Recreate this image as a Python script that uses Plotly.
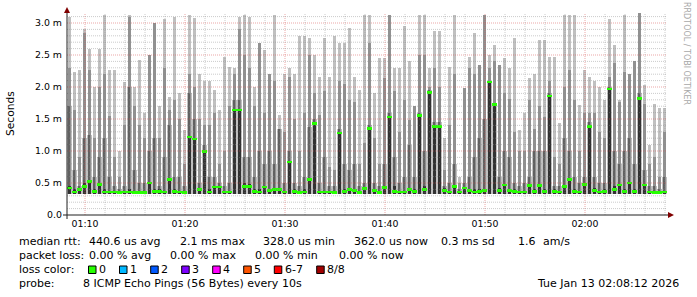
import plotly.graph_objects as go
import pandas as pd

# ---------------- data (ms), one value per 30 s column from 01:08:12 ----------------
START = "2026-01-13 01:08:12"
STEP_S = 30

rtt_max = [3.1, 2.24, 2.27, 2.9, 2.6, 2.0, 2.6, 3.12, 2.27, 2.27, 1.0, 2.08, 3.12, 2.0, 2.42, 1.6, 2.5, 3.0, 1.7, 3.07, 1.85, 3.1, 1.9, 1.33,
           3.12, 3.08, 2.2, 2.1, 2.1, 1.95, 1.64, 2.47, 2.32, 2.3, 3.1, 3.12, 3.1, 2.0, 2.68, 2.58, 2.2, 3.12, 1.56, 2.2, 2.3, 2.2, 2.8, 2.8,
           2.76, 2.5, 2.16, 2.76, 2.16, 2.8, 2.68, 2.68, 2.92, 2.16, 1.95, 3.12, 3.12, 1.9, 2.45, 2.45, 3.12, 2.3, 2.3, 2.95, 2.4, 1.7, 3.12, 3.12,
           2.3, 2.87, 2.87, 1.2, 2.32, 3.12, 0.6, 1.98, 2.47, 2.84, 2.34, 3.12, 2.5, 2.66, 2.34, 2.45, 2.3, 2.76, 1.33, 1.6, 2.14, 2.2, 2.73, 2.73,
           2.47, 2.47, 1.43, 3.12, 3.12, 3.12, 1.72, 2.27, 2.16, 2.1, 2.0, 1.8, 3.07, 2.66, 1.8, 3.12, 2.2, 2.4, 3.15, 2.03, 1.1, 1.74, 1.67, 1.67]

rtt_p7 = [2.3, 1.64, 0.9, 2.85, 2.27, 1.2, 2.0, 2.2, 1.55, 0.9, 0.6, 1.4, 3.1, 1.7, 1.4, 1.2, 2.5, 3.0, 1.2, 2.3, 1.64, 1.8, 1.5, 0.8,
          2.2, 2.0, 1.5, 1.4, 1.4, 1.6, 0.8, 1.0, 1.7, 2.2, 2.9, 2.5, 2.3, 1.7, 2.68, 1.6, 2.2, 2.1, 1.35, 1.3, 2.15, 1.5, 1.0, 1.6,
          2.5, 1.9, 1.56, 1.93, 0.75, 0.7, 2.1, 2.05, 1.8, 1.77, 0.8, 1.12, 2.68, 1.2, 0.8, 2.14, 3.12, 1.93, 1.3, 1.8, 1.48, 1.7, 2.5, 2.5,
          2.0, 2.3, 2.0, 0.7, 1.4, 2.2, 0.5, 1.98, 2.3, 2.2, 2.34, 3.12, 2.3, 2.4, 2.34, 1.9, 1.82, 1.3, 1.0, 1.0, 1.8, 1.35, 1.7, 1.53,
          2.1, 0.9, 0.8, 2.0, 2.27, 1.8, 1.0, 1.6, 1.6, 1.6, 1.3, 1.2, 2.16, 2.37, 1.77, 2.24, 2.2, 2.4, 3.15, 1.74, 0.8, 0.9, 0.6, 1.3]

rtt_p6 = [1.7, 0.7, 0.45, 1.2, 1.25, 0.6, 0.9, 1.2, 0.6, 0.45, 0.4, 0.45, 2.0, 0.7, 0.5, 0.5, 1.0, 1.2, 0.45, 0.9, 1.4, 0.6, 0.6, 0.45,
          1.9, 1.5, 0.5, 1.1, 0.6, 0.6, 0.5, 0.45, 0.5, 1.8, 1.8, 0.9, 0.9, 0.6, 1.0, 0.8, 1.0, 0.8, 1.35, 0.5, 1.0, 0.5, 0.45, 0.6,
          1.38, 1.5, 0.5, 0.9, 0.45, 0.45, 1.35, 0.8, 0.7, 0.8, 0.45, 0.5, 1.4, 0.5, 0.45, 0.8, 1.6, 0.9, 0.5, 0.6, 1.1, 0.6, 1.6, 1.0,
          1.95, 1.45, 1.45, 0.45, 0.5, 0.8, 0.4, 0.5, 0.6, 0.9, 1.2, 1.5, 2.1, 1.75, 0.6, 1.0, 0.9, 0.5, 0.45, 0.5, 0.6, 1.0, 1.0, 1.0,
          1.9, 0.45, 0.45, 1.2, 1.0, 0.6, 0.5, 0.6, 1.45, 0.6, 0.5, 0.5, 2.0, 1.0, 0.8, 1.0, 1.2, 0.8, 1.9, 0.7, 0.45, 0.45, 0.4, 0.6]

rtt_p5 = [0.45, 0.4, 0.42, 0.5, 0.55, 0.4, 0.5, 0.4, 0.38, 0.38, 0.37, 0.38, 0.4, 0.38, 0.37, 0.38, 0.52, 0.4, 0.4, 0.38, 0.56, 0.4, 0.38, 0.38,
          1.24, 1.2, 0.42, 1.0, 0.4, 0.45, 0.46, 0.38, 0.38, 1.66, 1.66, 0.5, 0.48, 0.4, 0.4, 0.45, 0.4, 0.42, 0.42, 0.38, 0.85, 0.4, 0.37, 0.4,
          0.56, 1.45, 0.38, 0.38, 0.38, 0.37, 1.3, 0.4, 0.42, 0.4, 0.37, 0.43, 1.37, 0.4, 0.37, 0.45, 1.55, 0.45, 0.38, 0.38, 0.42, 0.4, 1.58, 0.45,
          1.93, 1.4, 1.4, 0.42, 0.38, 0.47, 0.38, 0.43, 0.4, 0.4, 0.4, 0.4, 2.1, 1.75, 0.42, 0.49, 0.4, 0.4, 0.38, 0.38, 0.48, 0.4, 0.47, 0.4,
          1.88, 0.4, 0.38, 0.47, 0.57, 0.4, 0.38, 0.5, 1.4, 0.42, 0.38, 0.4, 1.99, 0.45, 0.48, 0.4, 0.52, 0.4, 1.84, 0.48, 0.38, 0.37, 0.37, 0.38]

rtt_median = [0.42, 0.36, 0.4, 0.45, 0.52, 0.37, 0.48, 0.36, 0.36, 0.36, 0.35, 0.36, 0.36, 0.35, 0.35, 0.35, 0.5, 0.37, 0.37, 0.36, 0.55, 0.37, 0.36, 0.35,
              1.22, 1.19, 0.4, 0.99, 0.36, 0.44, 0.44, 0.36, 0.36, 1.64, 1.64, 0.45, 0.45, 0.37, 0.36, 0.44, 0.38, 0.4, 0.4, 0.36, 0.83, 0.37, 0.35, 0.36,
              0.55, 1.43, 0.36, 0.36, 0.36, 0.35, 1.28, 0.37, 0.4, 0.38, 0.35, 0.41, 1.35, 0.38, 0.35, 0.43, 1.53, 0.37, 0.36, 0.36, 0.4, 0.37, 1.56, 0.4,
              1.91, 1.38, 1.38, 0.38, 0.36, 0.45, 0.36, 0.42, 0.38, 0.36, 0.37, 0.38, 2.08, 1.73, 0.38, 0.47, 0.38, 0.37, 0.36, 0.36, 0.46, 0.37, 0.46, 0.37,
              1.86, 0.37, 0.36, 0.45, 0.55, 0.37, 0.36, 0.48, 1.38, 0.38, 0.36, 0.37, 1.97, 0.4, 0.47, 0.37, 0.5, 0.37, 1.82, 0.47, 0.36, 0.35, 0.35, 0.36]

RTT_FLOOR = 0.33

y_tickvals = [0, 0.5, 1.0, 1.5, 2.0, 2.5, 3.0]
y_ticktext = ["0.0", "0.5 m", "1.0 m", "1.5 m", "2.0 m", "2.5 m", "3.0 m"]
x_ticktimes = ["01:10", "01:20", "01:30", "01:40", "01:50", "02:00"]

legend_rows = [
    ["median rtt:", "440.6 us avg", "2.1 ms max", "328.0 us min", "362.0 us now", "0.3 ms sd", "1.6", "am/s"],
    ["packet loss:", "0.00 % avg", "0.00 % max", "0.00 % min", "0.00 % now"],
]
loss_labels = ["0", "1", "2", "3", "4", "5", "6-7", "8/8"]
loss_colors = ["#26ff00", "#00b8ff", "#0059ff", "#7e00ff", "#ff00ff", "#ff5500", "#ff0000", "#a10000"]
probe_text = "8 ICMP Echo Pings (56 Bytes) every 10s"
stamp_text = "Tue Jan 13 02:08:12 2026"

# ---------------- geometry ----------------
W, H = 697, 297
L, R, T, B = 67, 30, 13, 82
PW, PH = W - L - R, H - T - B
FONT = "DejaVu Sans"

def px(xp):
    return (xp - L) / PW

def py(yp):
    return (H - B - yp) / PH

t0 = pd.Timestamp(START)
n = len(rtt_median)
times = [t0 + pd.Timedelta(seconds=STEP_S * i + STEP_S / 2) for i in range(n)]
t_end = t0 + pd.Timedelta(hours=1)

fig = go.Figure()

# smoke layers: (top values, colour, width fraction of a 30 s column)
layers = [(rtt_max, "#c0c0c0", 0.7), (rtt_p6, "#c0c0c0", 1.0), (rtt_p7, "#919191", 0.42),
          (rtt_p6, "#616161", 0.32), (rtt_p5, "#323232", 0.72)]
for vals, col, frac in layers:
    fig.add_trace(go.Bar(x=times, y=[v - RTT_FLOOR for v in vals], base=RTT_FLOOR,
                         width=STEP_S * 1000 * frac, marker=dict(color=col, line=dict(width=0)),
                         hoverinfo="skip", showlegend=False))

MED_H = 0.042
fig.add_trace(go.Bar(x=times, y=[MED_H] * n, base=[m - MED_H / 2 for m in rtt_median],
                     width=STEP_S * 1000 * 0.95, marker=dict(color=loss_colors[0], line=dict(width=0)),
                     hoverinfo="skip", showlegend=False))

ymax = PH / 64.0
shapes = []
minute = pd.Timedelta(minutes=2)
t = pd.Timestamp("2026-01-13 01:10:00")
while t < t_end:
    major = (t.minute % 10 == 0)
    shapes.append(dict(type="line", xref="x", yref="y", x0=t, x1=t, y0=0, y1=ymax, layer="above",
                       line=dict(color="rgba(215,80,80,0.5)" if major else "rgba(140,140,140,0.45)",
                                 width=1, dash="1px,1px")))
    t += minute
for k in range(1, 32):
    v = k / 10
    major = (k % 5 == 0)
    shapes.append(dict(type="line", xref="paper", yref="y", x0=0, x1=1, y0=v, y1=v, layer="above",
                       line=dict(color="rgba(215,80,80,0.5)" if major else "rgba(140,140,140,0.45)",
                                 width=1, dash="1px,1px")))
shapes.append(dict(type="line", xref="paper", yref="paper", x0=px(63), x1=px(668), y0=0, y1=0,
                   line=dict(color="#202020", width=1), layer="above"))
shapes.append(dict(type="line", xref="paper", yref="paper", x0=0, x1=0, y0=py(219), y1=py(12),
                   line=dict(color="#202020", width=1), layer="above"))
shapes.append(dict(type="path", xref="paper", yref="paper",
                   path=f"M {px(668)},{py(212)} L {px(674)},{py(215)} L {px(668)},{py(218)} Z",
                   fillcolor="#800000", line=dict(color="#800000", width=0), layer="above"))
shapes.append(dict(type="path", xref="paper", yref="paper",
                   path=f"M {px(64)},{py(13)} L {px(67)},{py(7)} L {px(70)},{py(13)} Z",
                   fillcolor="#800000", line=dict(color="#800000", width=0), layer="above"))

annotations = []
def text(s, x, y, size=11, color="black", anchor="left", angle=0):
    annotations.append(dict(text=s, x=px(x), y=py(y), xref="paper", yref="paper", showarrow=False,
                            xanchor=anchor, yanchor="middle", textangle=angle,
                            font=dict(family=FONT, size=size, color=color)))

row1_x = [16.5, 87.3, 177.7, 261, 351.7, 439, 516, 541]
row2_x = [16.5, 87.3, 168.3, 253.3, 337]
for s, x in zip(legend_rows[0], row1_x):
    text(s, x, 241.5)
for s, x in zip(legend_rows[1], row2_x):
    text(s, x, 255.5)
text("loss color:", 16.5, 269.5)
box_x = [88.5, 119.5, 150.7, 181.7, 212.7, 243.7, 274.3, 316.7]
for lab, col, bx in zip(loss_labels, loss_colors, box_x):
    shapes.append(dict(type="rect", xref="paper", yref="paper", x0=px(bx), x1=px(bx + 7.5),
                       y0=py(273.5), y1=py(266), fillcolor=col, line=dict(color="black", width=1)))
    text(lab, bx + 8.6, 269.5)
text("probe:", 16.5, 283.5)
text(probe_text, 80.7, 283.5)
text(stamp_text, 681, 283.5, anchor="right")
text("Seconds", 10, 114, size=10.7, angle=-90, anchor="center")
text("RRDTOOL / TOBI OETIKER", 686, 53, size=8, color="#a8a8a8", angle=90, anchor="center")

fig.update_layout(
    width=W, height=H, margin=dict(l=L, r=R, t=T, b=B, pad=0),
    paper_bgcolor="white", plot_bgcolor="white", barmode="overlay", bargap=0,
    shapes=shapes, annotations=annotations, showlegend=False,
    font=dict(family=FONT, size=9.4, color="black"),
)
fig.update_xaxes(type="date", range=[t0, t_end], showgrid=False, zeroline=False, showline=False,
                 tickvals=[pd.Timestamp("2026-01-13 " + s) for s in x_ticktimes], ticktext=x_ticktimes,
                 ticks="", tickfont=dict(family=FONT, size=9.4), fixedrange=True, ticklabelstandoff=2)
fig.update_yaxes(range=[0, ymax], showgrid=False, zeroline=False, showline=False,
                 tickvals=y_tickvals, ticktext=y_ticktext, ticks="", tickfont=dict(family=FONT, size=9.4),
                 fixedrange=True, ticklabelstandoff=4)

fig.write_html("out.html")
